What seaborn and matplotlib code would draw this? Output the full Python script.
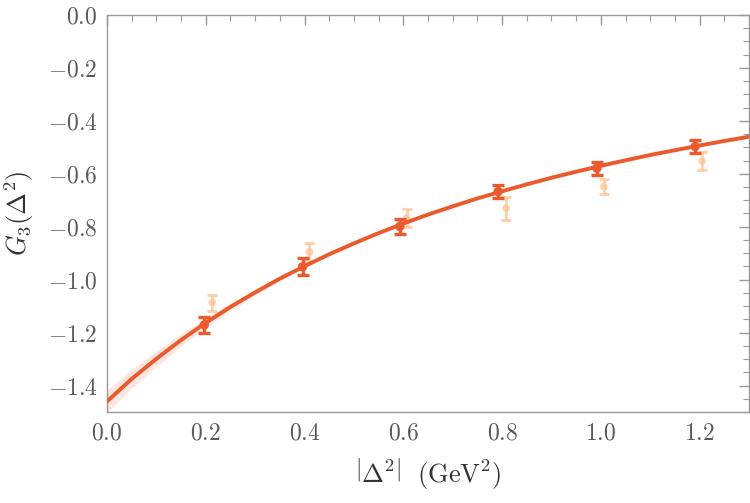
import numpy as np
import pandas as pd
import matplotlib
matplotlib.use("Agg")
import matplotlib.pyplot as plt
import seaborn as sns
from matplotlib.ticker import MultipleLocator, FuncFormatter

# ---- data ----
main_x = [0.197, 0.396, 0.593, 0.792, 0.992, 1.191]
main_y = [-1.171, -0.951, -0.799, -0.667, -0.579, -0.497]
main_err = [0.031, 0.032, 0.030, 0.026, 0.024, 0.024]

alt_x = [0.213, 0.410, 0.607, 0.808, 1.006, 1.205]
alt_y = [-1.087, -0.895, -0.767, -0.730, -0.648, -0.552]
alt_err = [0.030, 0.035, 0.035, 0.044, 0.027, 0.035]

curve_x = [0.0, 0.05, 0.1, 0.15, 0.2, 0.25, 0.3, 0.35, 0.4, 0.45, 0.5, 0.55, 0.6, 0.65,
           0.7, 0.75, 0.8, 0.85, 0.9, 0.95, 1.0, 1.05, 1.1, 1.15, 1.2, 1.25, 1.3]
curve_y = [-1.460, -1.375, -1.299, -1.228, -1.163, -1.103, -1.048, -0.996, -0.949,
           -0.904, -0.863, -0.824, -0.788, -0.754, -0.723, -0.693, -0.666, -0.640,
           -0.615, -0.592, -0.570, -0.549, -0.529, -0.511, -0.493, -0.476, -0.460]
band_half = [0.042, 0.036, 0.030, 0.024, 0.018, 0.014, 0.011, 0.008, 0.006, 0.005,
             0.004, 0.004, 0.003, 0.003, 0.003, 0.003, 0.003, 0.003, 0.003, 0.003,
             0.003, 0.003, 0.003, 0.003, 0.003, 0.003, 0.003]

x_ticks = [0.0, 0.2, 0.4, 0.6, 0.8, 1.0, 1.2]
y_ticks = [0.0, -0.2, -0.4, -0.6, -0.8, -1.0, -1.2, -1.4]

# ---- style ----
sns.set_theme(style="white")
plt.rcParams["mathtext.fontset"] = "cm"
plt.rcParams["font.family"] = ["DejaVu Serif"]

dark = "#ea5a2c"
light = "#fcc596"
band_col = "#fbd6cb"
gray = "#5a5a5a"
frame = "#9a9a9a"

fig = plt.figure(figsize=(7.5, 5.03), dpi=100)
ax = fig.add_axes([107 / 750, 1 - 412 / 503, 642 / 750, 397 / 503])

curve = pd.DataFrame({"x": curve_x, "y": curve_y})
lo = np.array(curve_y) - np.array(band_half)
hi = np.array(curve_y) + np.array(band_half)
ax.fill_between(curve_x, lo, hi, color=band_col, alpha=0.6, lw=0, zorder=1)

# secondary (faint) points
ax.errorbar(alt_x, alt_y, yerr=alt_err, fmt="none", ecolor=light, elinewidth=2.2,
            capsize=3.5, capthick=2.2, alpha=0.75, zorder=2)
sns.scatterplot(x=alt_x, y=alt_y, ax=ax, color=light, s=30, edgecolor="none",
                alpha=0.75, zorder=3)

# fit curve
sns.lineplot(data=curve, x="x", y="y", ax=ax, color=dark, lw=2.8, zorder=4)

# main points
ax.errorbar(main_x, main_y, yerr=main_err, fmt="none", ecolor=dark, elinewidth=2.4,
            capsize=4, capthick=2.4, zorder=5)
sns.scatterplot(x=main_x, y=main_y, ax=ax, color=dark, s=45, edgecolor="none", zorder=6)

ax.set_xlim(0, 1.3)
ax.set_ylim(-1.5, 0.0)
ax.set_xticks(x_ticks)
ax.set_yticks(y_ticks)
ax.xaxis.set_minor_locator(MultipleLocator(0.05))
ax.yaxis.set_minor_locator(MultipleLocator(0.05))

fmt = FuncFormatter(lambda v, p: r"$%s$" % (f"{v:.1f}" if abs(v) > 1e-9 else "0.0"))
ax.xaxis.set_major_formatter(fmt)
ax.yaxis.set_major_formatter(fmt)

ax.tick_params(which="both", direction="in", top=True, right=True, colors=frame,
               labelcolor=gray, labelsize=17, pad=7)
ax.tick_params(which="major", length=7, width=1)
ax.tick_params(which="minor", length=4, width=0.8)
for s in ax.spines.values():
    s.set_color(frame)
    s.set_linewidth(1)

ax.set_xlabel(r"$\left|\Delta^{2}\right|\ \ (\mathrm{GeV}^2)$", fontsize=19, color="#333333", labelpad=8)
ax.set_ylabel(r"$G_3(\Delta^2)$", fontsize=19, color="#333333", labelpad=8)

fig.savefig("out.png", dpi=100)
